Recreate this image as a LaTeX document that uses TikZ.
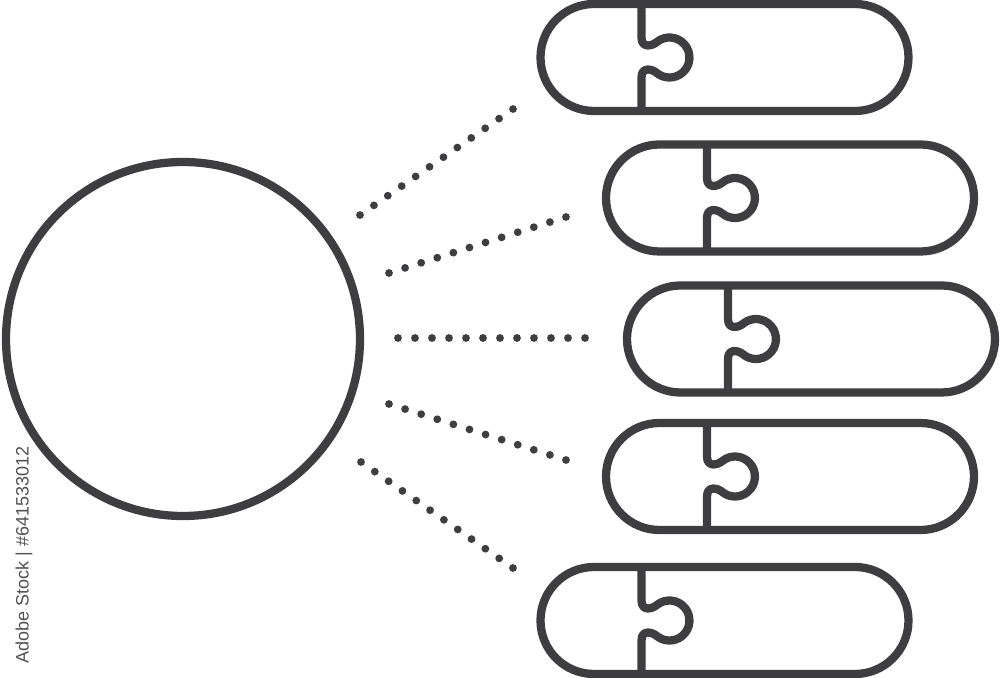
\documentclass[tikz,border=0pt]{standalone}
\usepackage{fontspec}
\newfontfamily\wmfont{Liberation Sans}
\usetikzlibrary{shapes.misc}
\definecolor{ink}{RGB}{62,62,64}
\begin{document}
\begin{tikzpicture}[x=0.75pt,y=0.75pt,
  line/.style={draw=ink,line width=6.2pt},
  pill/.style={line,rounded rectangle,minimum width=276pt,minimum height=80.25pt,inner sep=0pt,outer sep=0pt},
  hub/.style={line,circle,minimum size=265.5pt,inner sep=0pt,outer sep=0pt},
  knob/.style={line,line join=round}]
\useasboundingbox (0,0) rectangle (1000,678);
% hub circle
\node[hub] (c) at (183,339) {};
% pills
\node[pill] (p1) at (724.5,620.5) {};
\node[pill] (p2) at (790,480) {};
\node[pill] (p3) at (811,339) {};
\node[pill] (p4) at (790,201.5) {};
\node[pill] (p5) at (724.5,57.5) {};
% puzzle dividers
\foreach \p in {p1,p2,p3,p4,p5}{
  \draw[knob,shift={(\p.west)},shift={(101,0)}]
    (0,53.5) -- (0,20) .. controls (0,9) and (10.5,11.4) .. (15.1,15.3)
    arc[start angle=130,end angle=-130,radius=20]
    .. controls (10.5,-11.4) and (0,-9) .. (0,-20) -- (0,-53.5);
}
% dotted connectors
\coordinate (a1) at (360,463); \coordinate (b1) at (513,569);
\coordinate (a2) at (389,405); \coordinate (b2) at (566,461);
\coordinate (a3) at (398,340); \coordinate (b3) at (585,340);
\coordinate (a4) at (389,274); \coordinate (b4) at (566,218);
\coordinate (a5) at (361,216); \coordinate (b5) at (513,110);
\foreach \k in {1,...,5}{
  \foreach \i in {0,...,11}{
    \path (a\k) -- (b\k) coordinate[pos=\i/11] (d);
    \fill[ink] (d) circle (3.9);
  }
}
% stock label
\node[rotate=90,text=ink!90,font=\wmfont\fontsize{13.5pt}{16pt}\selectfont,inner sep=0pt] (wm) at (24,123) {Adobe Stock | \#641533012};
\end{tikzpicture}
\end{document}
